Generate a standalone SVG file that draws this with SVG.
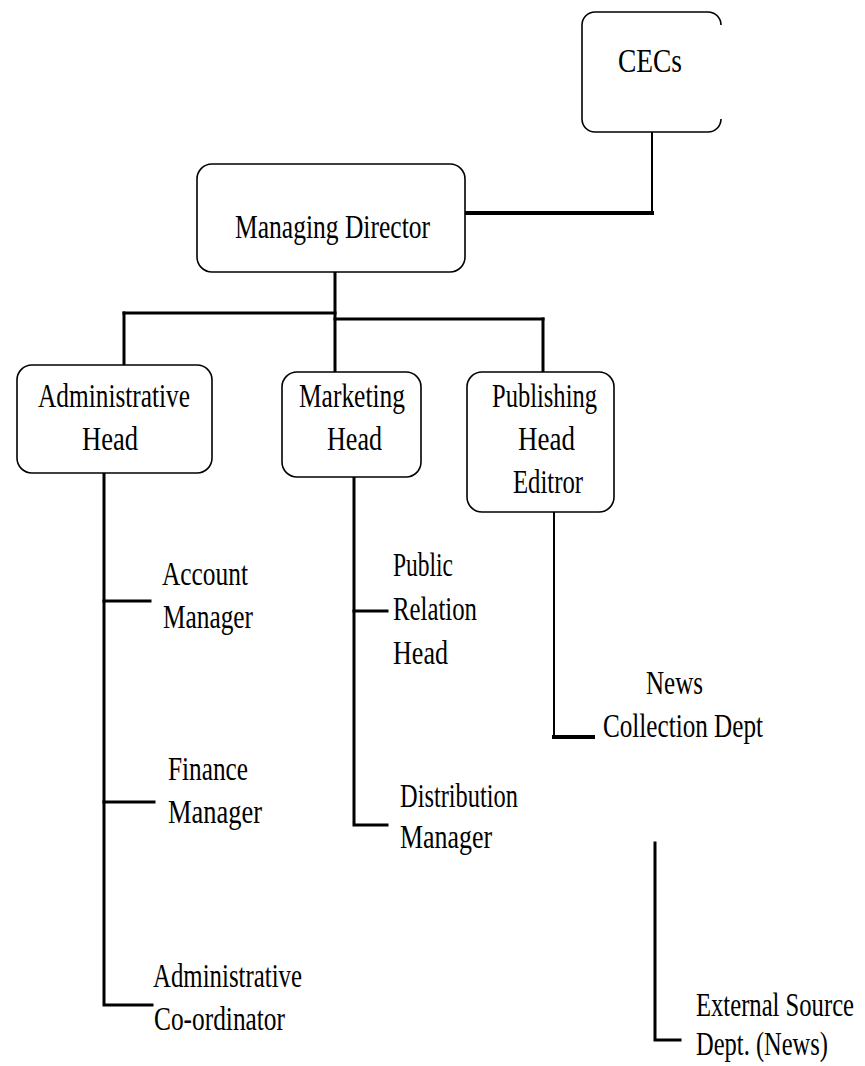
<svg xmlns="http://www.w3.org/2000/svg" width="865" height="1066" viewBox="0 0 865 1066">
<style>
.box{fill:#fff;stroke:#000;stroke-width:1.6}
.t{font-family:"Liberation Serif","Times New Roman",serif;font-size:34px;fill:#000}
.c{fill:none;stroke:#000;stroke-width:3;stroke-linecap:square}
.thin{stroke-width:2}
.thick{stroke-width:4}
</style>
<rect width="865" height="1066" fill="#fff"/>
<g id="connectors">
<line class="c thin" x1="652" y1="132" x2="652" y2="213"/>
<line class="c thick" x1="465" y1="213" x2="652" y2="213"/>
<line class="c" x1="335" y1="272" x2="335" y2="372"/>
<line class="c" x1="124" y1="313" x2="335" y2="313"/>
<line class="c" x1="124" y1="313" x2="124" y2="365"/>
<line class="c" x1="335" y1="319" x2="543" y2="319"/>
<line class="c" x1="543" y1="319" x2="543" y2="372"/>
<polyline class="c" points="104,473 104,1005 152,1005"/>
<line class="c" x1="104" y1="601" x2="150" y2="601"/>
<line class="c" x1="104" y1="802" x2="154" y2="802"/>
<polyline class="c" points="354,477 354,825 387,825"/>
<line class="c" x1="354" y1="611" x2="387" y2="611"/>
<line class="c thin" x1="554" y1="512" x2="554" y2="737"/>
<line class="c thick" x1="554" y1="737" x2="593" y2="737"/>
<polyline class="c" points="655,843 655,1040 680,1040"/>
</g>
<g id="cecs">
<path class="box" d="M721,25 A13,13 0 0 0 708,12 H595 A13,13 0 0 0 582,25 V119 A13,13 0 0 0 595,132 H708 A13,13 0 0 0 721,119"/>
<text class="t" x="618" y="72" textLength="64" lengthAdjust="spacingAndGlyphs">CECs</text>
</g>
<g id="managing-director">
<rect class="box" x="197" y="164" width="268" height="108" rx="15"/>
<text class="t" x="235" y="238" font-size="36" textLength="195" lengthAdjust="spacingAndGlyphs">Managing Director</text>
</g>
<g id="administrative-head">
<rect class="box" x="17" y="365" width="195" height="108" rx="15"/>
<text class="t" x="38" y="407" textLength="152" lengthAdjust="spacingAndGlyphs">Administrative</text>
<text class="t" x="82" y="450" textLength="56" lengthAdjust="spacingAndGlyphs">Head</text>
</g>
<g id="marketing-head">
<rect class="box" x="282" y="372" width="139" height="105" rx="15"/>
<text class="t" x="299" y="407" textLength="106" lengthAdjust="spacingAndGlyphs">Marketing</text>
<text class="t" x="327" y="450" textLength="55" lengthAdjust="spacingAndGlyphs">Head</text>
</g>
<g id="publishing-head">
<rect class="box" x="467" y="372" width="147" height="140" rx="15"/>
<text class="t" x="492" y="407" textLength="105" lengthAdjust="spacingAndGlyphs">Publishing</text>
<text class="t" x="518" y="450" textLength="57" lengthAdjust="spacingAndGlyphs">Head</text>
<text class="t" x="513" y="493" textLength="70" lengthAdjust="spacingAndGlyphs">Editror</text>
</g>
<g id="account-manager">
<text class="t" x="162" y="585" textLength="86" lengthAdjust="spacingAndGlyphs">Account</text>
<text class="t" x="163" y="628" textLength="90" lengthAdjust="spacingAndGlyphs">Manager</text>
</g>
<g id="finance-manager">
<text class="t" x="168" y="780" textLength="80" lengthAdjust="spacingAndGlyphs">Finance</text>
<text class="t" x="168" y="823" textLength="94" lengthAdjust="spacingAndGlyphs">Manager</text>
</g>
<g id="administrative-coordinator">
<text class="t" x="153" y="987" textLength="149" lengthAdjust="spacingAndGlyphs">Administrative</text>
<text class="t" x="154" y="1030" textLength="131" lengthAdjust="spacingAndGlyphs">Co-ordinator</text>
</g>
<g id="public-relation-head">
<text class="t" x="393" y="576" textLength="60" lengthAdjust="spacingAndGlyphs">Public</text>
<text class="t" x="393" y="620" textLength="84" lengthAdjust="spacingAndGlyphs">Relation</text>
<text class="t" x="393" y="664" textLength="55" lengthAdjust="spacingAndGlyphs">Head</text>
</g>
<g id="distribution-manager">
<text class="t" x="400" y="807" textLength="118" lengthAdjust="spacingAndGlyphs">Distribution</text>
<text class="t" x="400" y="848" textLength="92" lengthAdjust="spacingAndGlyphs">Manager</text>
</g>
<g id="news-collection-dept">
<text class="t" x="646" y="694" textLength="57" lengthAdjust="spacingAndGlyphs">News</text>
<text class="t" x="603" y="737" textLength="160" lengthAdjust="spacingAndGlyphs">Collection Dept</text>
</g>
<g id="external-source-dept">
<text class="t" x="696" y="1016" font-size="32" textLength="158" lengthAdjust="spacingAndGlyphs">External Source</text>
<text class="t" x="696" y="1055" font-size="32" textLength="132" lengthAdjust="spacingAndGlyphs">Dept. (News)</text>
</g>
</svg>
